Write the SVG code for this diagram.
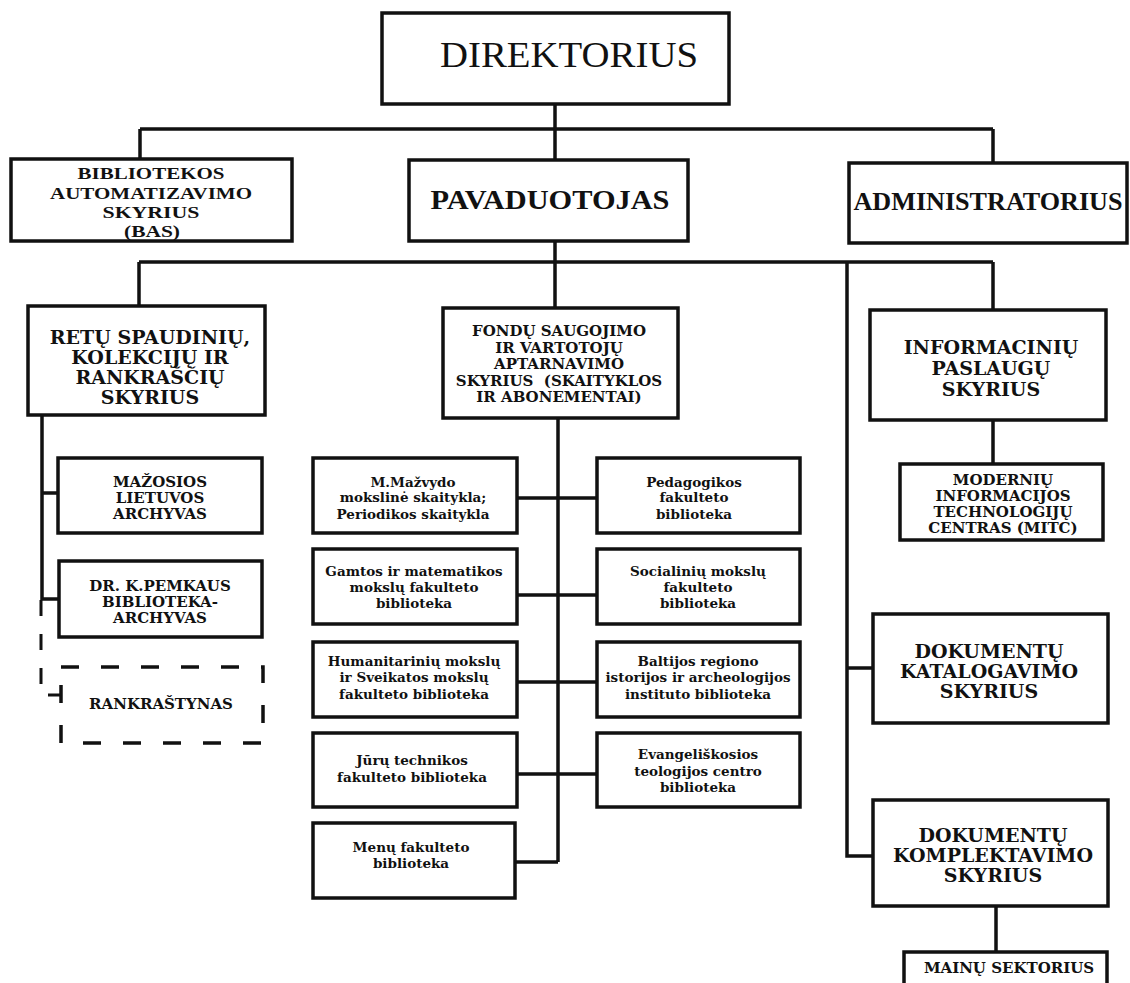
<svg xmlns="http://www.w3.org/2000/svg" width="1130" height="983" viewBox="0 0 1130 983">
<style>
.box{fill:#fff;stroke:#111;stroke-width:3.5}
.dbox{fill:none;stroke:#111;stroke-width:3.5;stroke-dasharray:18 22}
.ln{fill:none;stroke:#111;stroke-width:3.5}
.dln{fill:none;stroke:#111;stroke-width:3;stroke-dasharray:16 18}
text{fill:#111;text-anchor:middle}
.tn{font-family:"Liberation Serif","Times New Roman",serif}
.tb{font-family:"Liberation Serif","Times New Roman",serif;font-weight:bold}
.u{font-family:"DejaVu Serif",serif;font-weight:bold;font-size:15px}
.U{font-family:"DejaVu Serif",serif;font-weight:bold;font-size:19px}
.l{font-family:"DejaVu Serif",serif;font-weight:bold;font-size:13.5px}
</style>
<rect width="1130" height="983" fill="#fff"/>
<g id="connectors">
<path class="ln" d="M555 104V129M140 129H993M140 129V159M555 129V160M993 129V163"/>
<path class="ln" d="M555 241V308M139 262H993M139 262V306M993 262V310M847 262V856H873M847 668H873"/>
<path class="ln" d="M42 415V600M42 493H58M42 599H59"/>
<path class="dln" d="M41 600V695H62"/>
<path class="ln" d="M558 418V862M517 498H597M517 595H597M517 682H597M517 774H597M515 862H558"/>
<path class="ln" d="M993 420V464M996 906V952"/>
</g>
<g id="direktorius"><rect class="box" x="382" y="13" width="347" height="91"/><text class="tn" x="569" y="67" font-size="35" textLength="258" lengthAdjust="spacingAndGlyphs">DIREKTORIUS</text></g>
<g id="bas"><rect class="box" x="11" y="159" width="281" height="82"/>
<text class="tb" font-size="17.5"><tspan x="151" y="179" textLength="147" lengthAdjust="spacingAndGlyphs">BIBLIOTEKOS</tspan><tspan x="151" y="198.5" textLength="202" lengthAdjust="spacingAndGlyphs">AUTOMATIZAVIMO</tspan><tspan x="151" y="218" textLength="97" lengthAdjust="spacingAndGlyphs">SKYRIUS</tspan><tspan x="152" y="237" textLength="56" lengthAdjust="spacingAndGlyphs">(BAS)</tspan></text></g>
<g id="pavaduotojas"><rect class="box" x="409" y="160" width="279" height="81"/><text class="tb" x="550" y="209" font-size="27" textLength="239" lengthAdjust="spacingAndGlyphs">PAVADUOTOJAS</text></g>
<g id="administratorius"><rect class="box" x="849" y="163" width="278" height="80"/><text class="tb" x="988" y="210" font-size="25" textLength="269" lengthAdjust="spacingAndGlyphs">ADMINISTRATORIUS</text></g>
<g id="retu"><rect class="box" x="28" y="306" width="237" height="109"/>
<text class="U" font-size="17.5"><tspan x="150" y="343.5">RETŲ SPAUDINIŲ,</tspan><tspan x="150" y="363.5">KOLEKCIJŲ IR</tspan><tspan x="150" y="383.5">RANKRAŠČIŲ</tspan><tspan x="150" y="403.5">SKYRIUS</tspan></text></g>
<g id="mazosios"><rect class="box" x="58" y="458" width="204" height="75"/>
<text class="u"><tspan x="160" y="486.5">MAŽOSIOS</tspan><tspan x="160" y="502.5">LIETUVOS</tspan><tspan x="160" y="518.5">ARCHYVAS</tspan></text></g>
<g id="pemkaus"><rect class="box" x="59" y="561" width="203" height="76"/>
<text class="u"><tspan x="160" y="590.5">DR. K.PEMKAUS</tspan><tspan x="160" y="606.5">BIBLIOTEKA-</tspan><tspan x="160" y="622.5">ARCHYVAS</tspan></text></g>
<g id="rankrastynas"><rect class="dbox" x="61" y="667" width="202" height="76"/>
<text class="u" x="161" y="708.5">RANKRAŠTYNAS</text></g>
<g id="fondu"><rect class="box" x="443" y="308" width="235" height="110"/>
<text class="u" font-size="16"><tspan x="559" y="336">FONDŲ SAUGOJIMO</tspan><tspan x="559" y="352.5">IR VARTOTOJŲ</tspan><tspan x="559" y="369">APTARNAVIMO</tspan><tspan x="559" y="385.5" xml:space="preserve">SKYRIUS  (SKAITYKLOS</tspan><tspan x="559" y="402">IR ABONEMENTAI)</tspan></text></g>
<g id="mazvydo"><rect class="box" x="313" y="458" width="204" height="75"/>
<text class="l"><tspan x="413" y="487">M.Mažvydo</tspan><tspan x="413" y="502">mokslinė skaitykla;</tspan><tspan x="413" y="519">Periodikos skaitykla</tspan></text></g>
<g id="pedagogikos"><rect class="box" x="597" y="458" width="203" height="75"/>
<text class="l"><tspan x="694" y="487">Pedagogikos</tspan><tspan x="694" y="502">fakulteto</tspan><tspan x="694" y="519">biblioteka</tspan></text></g>
<g id="gamtos"><rect class="box" x="313" y="549" width="204" height="75"/>
<text class="l"><tspan x="414" y="576">Gamtos ir matematikos</tspan><tspan x="414" y="592">mokslų fakulteto</tspan><tspan x="414" y="608">biblioteka</tspan></text></g>
<g id="socialiniu"><rect class="box" x="597" y="549" width="203" height="75"/>
<text class="l"><tspan x="698" y="576">Socialinių mokslų</tspan><tspan x="698" y="592">fakulteto</tspan><tspan x="698" y="608">biblioteka</tspan></text></g>
<g id="humanitariniu"><rect class="box" x="313" y="642" width="204" height="75"/>
<text class="l"><tspan x="414" y="666">Humanitarinių mokslų</tspan><tspan x="414" y="682">ir Sveikatos mokslų</tspan><tspan x="414" y="699">fakulteto biblioteka</tspan></text></g>
<g id="baltijos"><rect class="box" x="597" y="642" width="203" height="75"/>
<text class="l"><tspan x="698" y="666">Baltijos regiono</tspan><tspan x="698" y="682">istorijos ir archeologijos</tspan><tspan x="698" y="699">instituto biblioteka</tspan></text></g>
<g id="juru"><rect class="box" x="313" y="733" width="204" height="74"/>
<text class="l"><tspan x="412" y="765">Jūrų technikos</tspan><tspan x="412" y="782">fakulteto biblioteka</tspan></text></g>
<g id="evangeliskosios"><rect class="box" x="597" y="733" width="203" height="74"/>
<text class="l"><tspan x="698" y="759">Evangeliškosios</tspan><tspan x="698" y="776">teologijos centro</tspan><tspan x="698" y="792">biblioteka</tspan></text></g>
<g id="menu"><rect class="box" x="313" y="823" width="202" height="75"/>
<text class="l"><tspan x="411" y="852">Menų fakulteto</tspan><tspan x="411" y="868">biblioteka</tspan></text></g>
<g id="informaciniu"><rect class="box" x="870" y="310" width="236" height="110"/>
<text class="U" font-size="19.4"><tspan x="991" y="354">INFORMACINIŲ</tspan><tspan x="991" y="375">PASLAUGŲ</tspan><tspan x="991" y="396">SKYRIUS</tspan></text></g>
<g id="mitc"><rect class="box" x="900" y="464" width="203" height="76"/>
<text class="u" font-size="15.3"><tspan x="1003" y="484.5">MODERNIŲ</tspan><tspan x="1003" y="500.5">INFORMACIJOS</tspan><tspan x="1003" y="516.5">TECHNOLOGIJŲ</tspan><tspan x="1003" y="532.5">CENTRAS (MITC)</tspan></text></g>
<g id="katalogavimo"><rect class="box" x="873" y="614" width="235" height="109"/>
<text class="U"><tspan x="989" y="657.5">DOKUMENTŲ</tspan><tspan x="989" y="677.5">KATALOGAVIMO</tspan><tspan x="989" y="697.5">SKYRIUS</tspan></text></g>
<g id="komplektavimo"><rect class="box" x="873" y="800" width="235" height="106"/>
<text class="U"><tspan x="993" y="841.5">DOKUMENTŲ</tspan><tspan x="993" y="861.5">KOMPLEKTAVIMO</tspan><tspan x="993" y="881.5">SKYRIUS</tspan></text></g>
<g id="mainu"><rect class="box" x="904" y="952" width="203" height="50"/>
<text class="u" font-size="16" x="1009" y="973">MAINŲ SEKTORIUS</text></g>
</svg>
